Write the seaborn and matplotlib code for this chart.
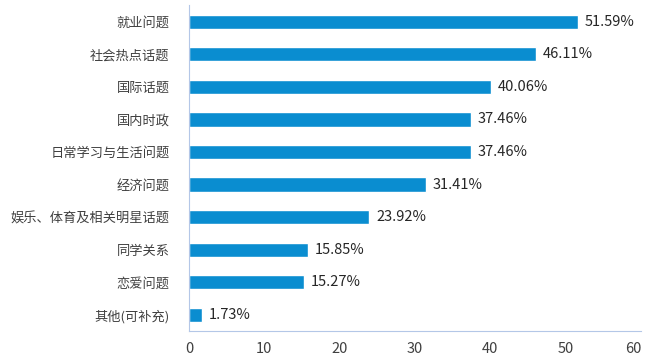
import pandas as pd
import seaborn as sns
from matplotlib import pyplot as plt

categories = ["就业问题", "社会热点话题", "国际话题", "国内时政", "日常学习与生活问题",
              "经济问题", "娱乐、体育及相关明星话题", "同学关系", "恋爱问题", "其他(可补充)"]
values = [51.59, 46.11, 40.06, 37.46, 37.46, 31.41, 23.92, 15.85, 15.27, 1.73]
xticks = [0, 10, 20, 30, 40, 50, 60]

sns.set_style("white")
plt.rcParams['font.family'] = ['Noto Sans CJK SC', 'DejaVu Sans']

df = pd.DataFrame({"cat": categories, "val": values})

fig = plt.figure(figsize=(6.48, 3.6), dpi=100)
ax = fig.add_axes([0.2917, 0.08, 0.6975, 0.905])
sns.barplot(data=df, x="val", y="cat", orient="h", color="#0A8DD0",
            saturation=1, width=0.44, ax=ax)

for i, v in enumerate(values):
    ax.text(v + 0.9, i, f"{v:.2f}%", va="center", ha="left",
            fontsize=10.5, color="#262626")

ax.set_xlim(0, 60)
ax.set_xticks(xticks)
ax.set_ylim(9.5, -0.5)
ax.set_xlabel("")
ax.set_ylabel("")
ax.tick_params(axis="both", length=0, labelsize=9.5, colors="#404040")
ax.tick_params(axis="x", labelsize=10.5, pad=8)
ax.tick_params(axis="y", pad=14)
# last tick label sits inside the figure edge, like the original
ax.get_xticklabels()[-1].set_ha("right")
for s in ["top", "right"]:
    ax.spines[s].set_visible(False)
for s in ["left", "bottom"]:
    ax.spines[s].set_color("#B4C7E7")
    ax.spines[s].set_linewidth(0.8)

fig.savefig("out.png", dpi=100)
